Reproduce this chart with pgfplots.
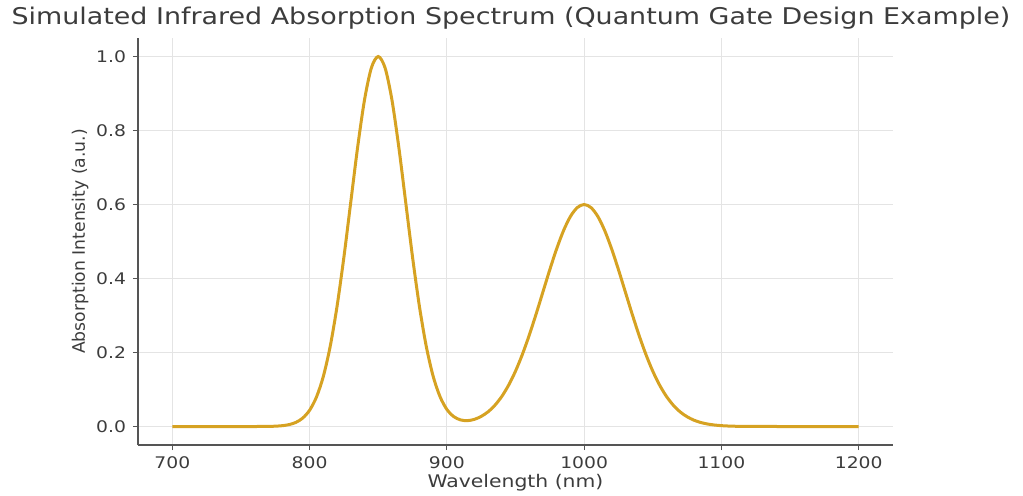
\documentclass[border=0pt]{standalone}
\usepackage{fontspec}
\setmainfont{DejaVu Sans}[FakeStretch=1.17]
\newfontfamily\plainfont{DejaVu Sans}
\usepackage{pgfplots}
\pgfplotsset{compat=1.18}
\definecolor{curve}{RGB}{214,162,34}
\definecolor{spine}{RGB}{85,85,85}
\definecolor{txt}{RGB}{60,60,60}
\definecolor{gridc}{RGB}{228,228,228}
\begin{document}
\begin{tikzpicture}
\begin{axis}[
	scale only axis,
	width=377.5pt, height=203.5pt,
	xmin=675, xmax=1225,
	ymin=-0.05, ymax=1.05,
	axis lines=left,
	axis line style={-, spine, line width=1pt},
	xtick={700,800,900,1000,1100,1200},
	ytick={0,0.2,0.4,0.6,0.8,1.0},
	tick align=outside,
	major tick length=2.5pt,
	tick style={spine, line width=0.6pt},
	grid=major,
	major grid style={gridc, line width=0.5pt},
	/pgf/number format/assume math mode=true,
	yticklabel style={/pgf/number format/fixed, /pgf/number format/fixed zerofill, /pgf/number format/precision=1},
	scaled y ticks=false,
	xticklabel style={/pgf/number format/1000 sep={}},
	tick label style={font=\fontsize{8}{9.6}\selectfont, text=txt},
	label style={font=\fontsize{8.7}{10}\selectfont, text=txt},
	xlabel={Wavelength (nm)},
	ylabel={Absorption Intensity (a.u.)},
	xlabel style={at={(axis description cs:0.5,-0.0934)}, anchor=center},
	ylabel style={at={(axis description cs:-0.0765,0.5)}, anchor=center, font=\plainfont\fontsize{8.6}{10}\selectfont},
	every axis title shift=0pt,
	title={Simulated Infrared Absorption Spectrum (Quantum Gate Design Example)},
	title style={font=\fontsize{11.5}{13}\selectfont, text=txt, at={(axis description cs:0.494,1.049)}, anchor=center},
]
\addplot[curve, line width=1.5pt, smooth] coordinates {
(700,0) (750,0) (760,0) (770,0.0003) (775,0.0009) (780,0.0022) (785,0.0051)
(790,0.0111) (795,0.0228) (800,0.0439) (805,0.0796) (810,0.1353) (815,0.2163)
(820,0.3247) (825,0.4578) (830,0.6065) (835,0.7548) (840,0.8825) (845,0.9692)
(850,1.0000) (855,0.9692) (860,0.8825) (865,0.7548) (870,0.6066) (875,0.4579)
(880,0.3249) (885,0.2167) (890,0.1360) (895,0.0809) (900,0.0462) (905,0.0268)
(910,0.0178) (915,0.0159) (920,0.0193) (925,0.0273) (930,0.0397) (935,0.0575)
(940,0.0812) (945,0.1118) (950,0.1496) (955,0.1948) (960,0.2467) (965,0.3038)
(970,0.3639) (975,0.4240) (980,0.4804) (985,0.5295) (990,0.5676) (995,0.5917)
(1000,0.6000) (1005,0.5917) (1010,0.5676) (1015,0.5295) (1020,0.4804) (1025,0.4240)
(1030,0.3639) (1035,0.3038) (1040,0.2467) (1045,0.1948) (1050,0.1496) (1055,0.1118)
(1060,0.0812) (1065,0.0574) (1070,0.0394) (1075,0.0264) (1080,0.0171) (1085,0.0108)
(1090,0.0067) (1095,0.0040) (1100,0.0023) (1105,0.0013) (1110,0.0007) (1120,0.0002)
(1130,0.0001) (1150,0) (1200,0)
};
\end{axis}
\pgfresetboundingbox
\path[use as bounding box] (-69pt,-25pt) rectangle (442.5pt,222.5pt);
\end{tikzpicture}
\end{document}
